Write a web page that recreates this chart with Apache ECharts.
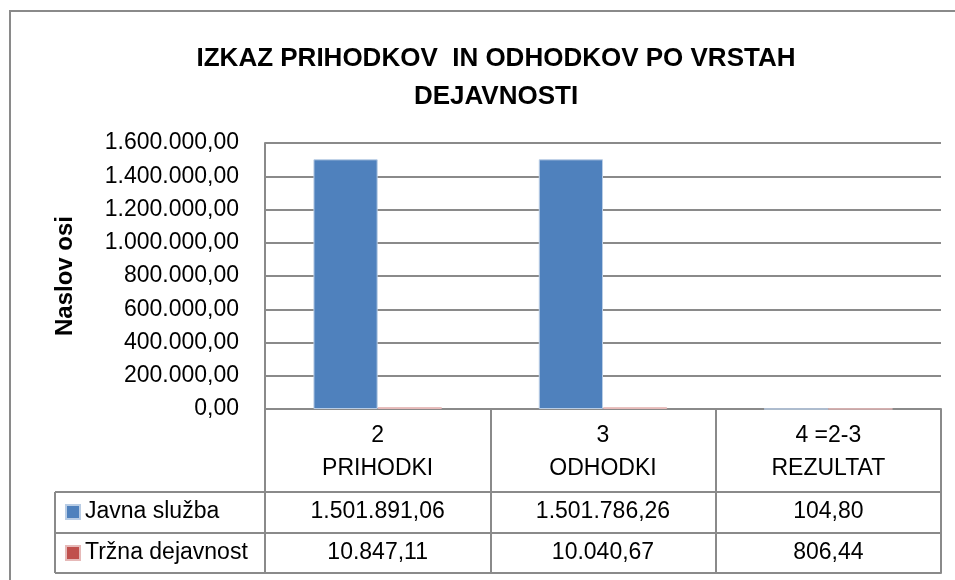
<!DOCTYPE html>
<html>
<head>
<meta charset="utf-8">
<script src="https://cdn.jsdelivr.net/npm/echarts@6/dist/echarts.min.js"></script>
<style>
  html, body { margin: 0; padding: 0; background: #fff; }
  #chart { width: 955px; height: 580px; }
</style>
</head>
<body>
<div id="chart"></div>
<script>
const categories = ["PRIHODKI", "ODHODKI", "REZULTAT"];
const columnNumbers = ["2", "3", "4 =2-3"];
const seriesNames = ["Javna služba", "Tržna dejavnost"];
const javnaSluzba = [1501891.06, 1501786.26, 104.80];
const trznaDejavnost = [10847.11, 10040.67, 806.44];
const yMax = 1600000;
const yStep = 200000;

const FONT = "'Liberation Sans', Arial, sans-serif";
const GRAY = "#8a8a8a";
const TXT = 23;

// plot area and table rows (pixels)
const GRID = { left: 265, right: 14, top: 143, bottom: 171 };
const ROW1 = 83;   // header row height under the axis
const ROW2 = 124;  // end of first data row
const ROW3 = 164;  // end of second data row
const TABLE_LEFT = 55;

// 1.234.567,89
function fmt(v) {
  const parts = Math.abs(v).toFixed(2).split(".");
  const whole = parts[0].replace(/\B(?=(\d{3})+(?!\d))/g, ".");
  return (v < 0 ? "-" : "") + whole + "," + parts[1];
}

const chart = echarts.init(document.getElementById("chart"));
const axisY = 580 - GRID.bottom;

const rowAxis = (offset, values) => ({
  type: "category",
  data: categories,
  position: "bottom",
  offset: offset,
  axisLine: { show: true, lineStyle: { color: GRAY, width: 2 } },
  axisTick: { show: false },
  axisLabel: {
    show: !!values,
    interval: 0,
    margin: 8,
    fontFamily: FONT,
    fontSize: TXT,
    lineHeight: 24,
    color: "#000",
    formatter: (v, i) => (values ? fmt(values[i]) : "")
  }
});

const hLine = (y) => ({
  type: "line",
  shape: { x1: TABLE_LEFT, y1: y, x2: GRID.left, y2: y },
  style: { stroke: GRAY, lineWidth: 2 }
});

chart.setOption({
  animation: false,
  backgroundColor: "#fff",
  title: {
    text: "IZKAZ PRIHODKOV  IN ODHODKOV PO VRSTAH\nDEJAVNOSTI",
    left: 491,
    top: 35,
    textAlign: "center",
    textStyle: {
      fontFamily: FONT,
      fontWeight: "bold",
      fontSize: 26,
      lineHeight: 38,
      color: "#000"
    }
  },
  legend: {
    orient: "vertical",
    left: 65,
    top: axisY + ROW1 + 8,
    padding: 0,
    itemWidth: 14,
    itemHeight: 14,
    itemGap: 17,
    icon: "rect",
    data: seriesNames,
    textStyle: { fontFamily: FONT, fontSize: TXT, lineHeight: 24, color: "#000" }
  },
  grid: GRID,
  xAxis: [
    {
      type: "category",
      data: categories,
      axisLine: { show: true, lineStyle: { color: GRAY, width: 2 } },
      axisTick: {
        show: true,
        interval: 0,
        alignWithLabel: false,
        length: ROW3,
        lineStyle: { color: GRAY, width: 2 }
      },
      axisLabel: {
        interval: 0,
        margin: 10,
        fontFamily: FONT,
        fontSize: TXT,
        lineHeight: 33,
        color: "#000",
        formatter: (v, i) => columnNumbers[i] + "\n" + v
      }
    },
    rowAxis(ROW1, javnaSluzba),
    rowAxis(ROW2, trznaDejavnost),
    rowAxis(ROW3, null)
  ],
  yAxis: {
    type: "value",
    min: 0,
    max: yMax,
    interval: yStep,
    name: "Naslov osi",
    nameLocation: "middle",
    nameRotate: 90,
    nameGap: 188,
    nameTextStyle: { fontFamily: FONT, fontWeight: "bold", fontSize: 24, color: "#000" },
    axisLine: { show: true, lineStyle: { color: GRAY, width: 2 } },
    axisTick: { show: false },
    splitLine: { lineStyle: { color: GRAY, width: 2 } },
    axisLabel: {
      margin: 26,
      fontFamily: FONT,
      fontSize: TXT,
      color: "#000",
      formatter: (v) => fmt(v)
    }
  },
  series: [
    {
      name: seriesNames[0],
      type: "bar",
      data: javnaSluzba,
      barGap: "0%",
      barCategoryGap: "43%",
      itemStyle: { color: "#4F81BD", borderColor: "#b9cde5", borderWidth: 1 }
    },
    {
      name: seriesNames[1],
      type: "bar",
      data: trznaDejavnost,
      itemStyle: { color: "#C0504D", borderColor: "#e6b9b8", borderWidth: 1 }
    }
  ],
  graphic: [
    {
      type: "rect",
      shape: { x: 10, y: 11, width: 1000, height: 700 },
      style: { fill: null, stroke: GRAY, lineWidth: 2 },
      silent: true
    },
    hLine(axisY + ROW1),
    hLine(axisY + ROW2),
    hLine(axisY + ROW3),
    {
      type: "line",
      shape: { x1: TABLE_LEFT, y1: axisY + ROW1, x2: TABLE_LEFT, y2: axisY + ROW3 },
      style: { stroke: GRAY, lineWidth: 2 }
    }
  ]
});
</script>
</body>
</html>
